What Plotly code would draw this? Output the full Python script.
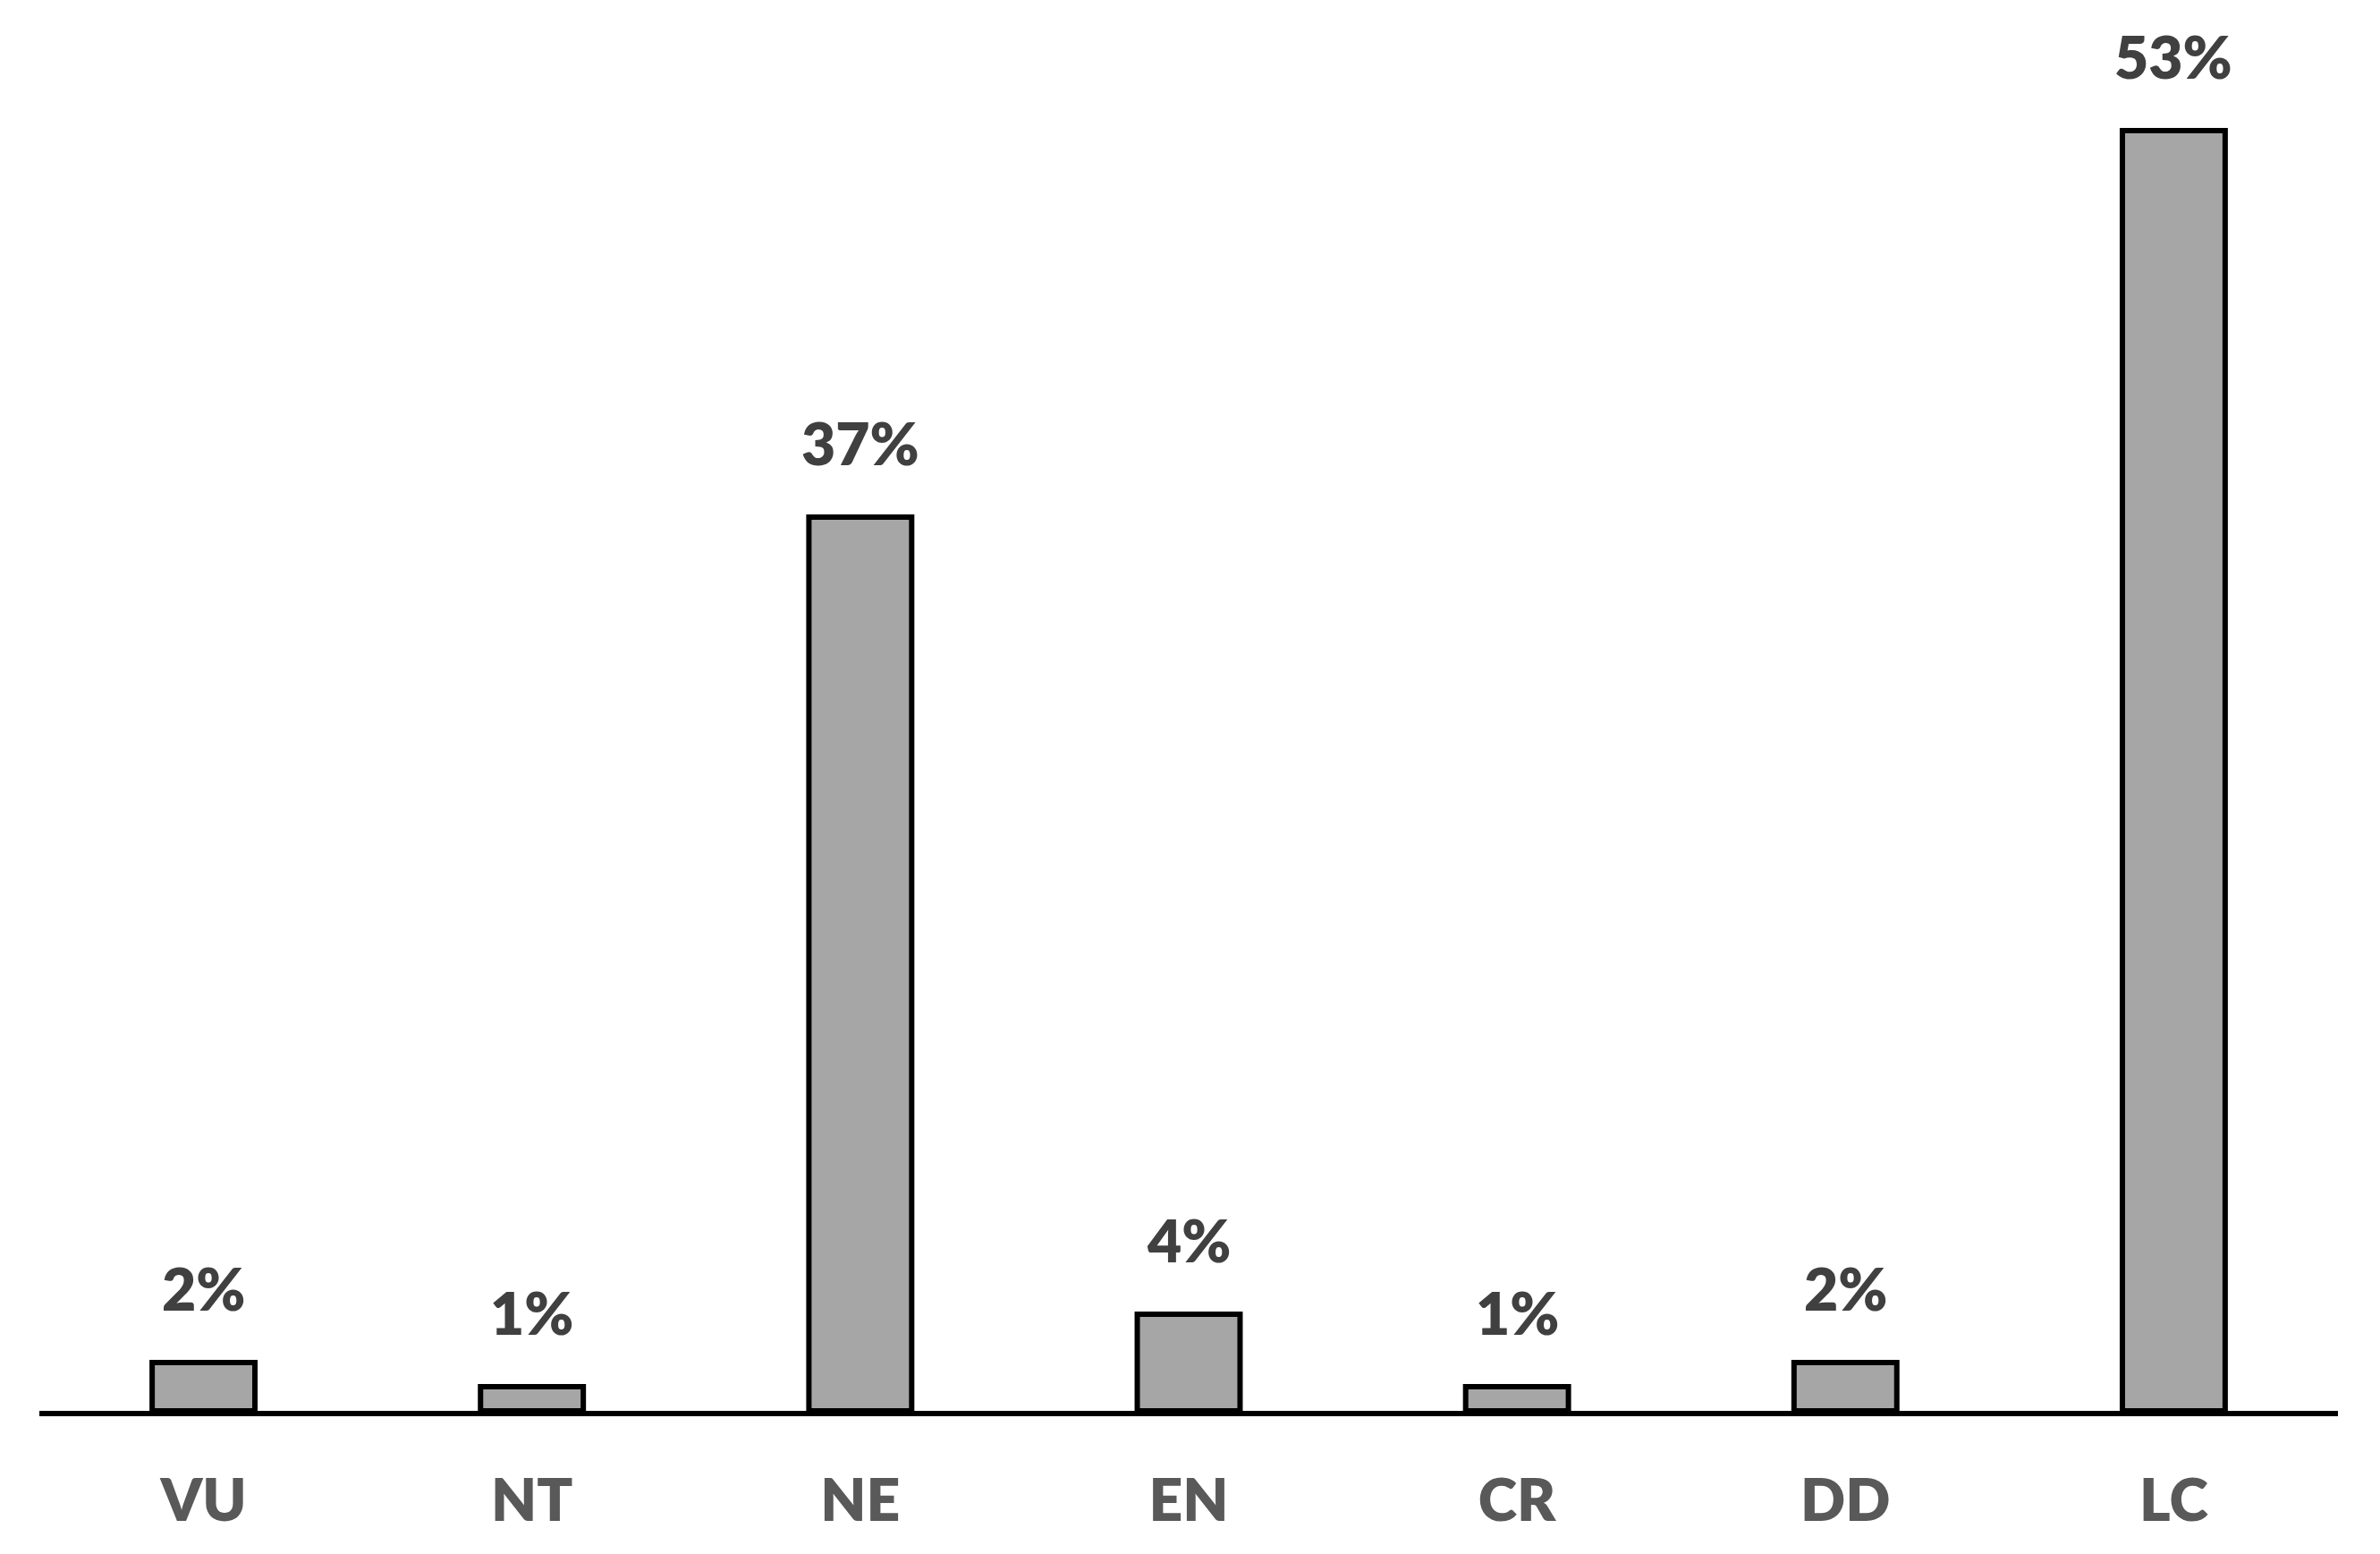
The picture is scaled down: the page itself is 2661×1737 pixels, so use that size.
import plotly.graph_objects as go

categories = ["VU", "NT", "NE", "EN", "CR", "DD", "LC"]
values = [2, 1, 37, 4, 1, 2, 53]
labels = ["2%", "1%", "37%", "4%", "1%", "2%", "53%"]

FONT = "Lato"

fig = go.Figure()
fig.add_trace(go.Bar(
    x=categories, y=values,
    marker=dict(color="#A6A6A6", line=dict(color="#000000", width=6)),
    width=0.313,
    hoverinfo="skip",
))

for c, v, t in zip(categories, values, labels):
    fig.add_annotation(
        x=c, y=v, text=t, showarrow=False,
        yanchor="bottom", yshift=42,
        font=dict(family=FONT, size=66, color="#404040", weight=800),
    )

# page body has an 8px default margin; sizes/margins compensate for it
fig.update_layout(
    width=2645, height=1721,
    margin=dict(l=36, r=39, t=3, b=152),
    plot_bgcolor="white", paper_bgcolor="white",
    showlegend=False,
    xaxis=dict(
        showline=True, linecolor="#000000", linewidth=6,
        ticks="outside", ticklen=38, tickcolor="rgba(0,0,0,0)",
        tickfont=dict(family=FONT, size=66, color="#595959", weight=800),
        showgrid=False, zeroline=False,
    ),
    yaxis=dict(
        range=[0, 58], visible=False, showgrid=False, zeroline=False,
    ),
)

fig.write_html("out.html")
